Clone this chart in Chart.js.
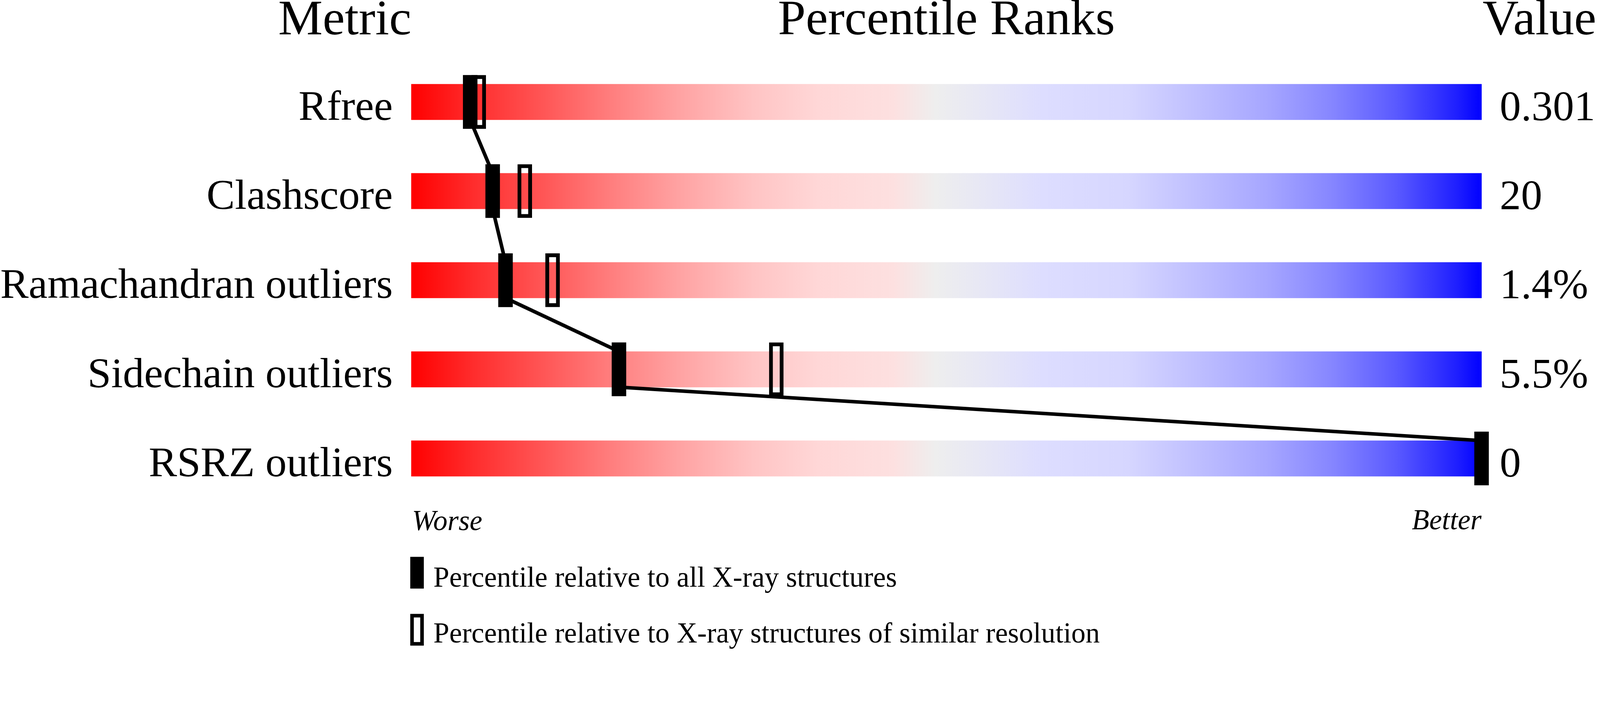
<!DOCTYPE html>
<html>
<head>
<meta charset="utf-8">
<title>Percentile Ranks</title>
<script src="https://cdn.jsdelivr.net/npm/chart.js@4.4.1/dist/chart.umd.min.js"></script>
<style>
  html, body { margin: 0; padding: 0; background: #ffffff; overflow: hidden; }
  canvas { display: block; }
</style>
</head>
<body>
<canvas id="c"></canvas>
<script>
// ---- data ----
const metrics = ['Rfree', 'Clashscore', 'Ramachandran outliers', 'Sidechain outliers', 'RSRZ outliers'];
const values = ['0.301', '20', '1.4%', '5.5%', '0'];
const pctAll = [5.5, 7.6, 8.8, 19.4, 100];          // relative to all X-ray structures
const pctSimilar = [6.3, 10.6, 13.2, 34.1, null];   // relative to similar resolution
const headers = ['Metric', 'Percentile Ranks', 'Value'];
const endLabels = ['Worse', 'Better'];
const legendLabels = ['Percentile relative to all X-ray structures',
                      'Percentile relative to X-ray structures of similar resolution'];

// ---- sizing: design space is 4485 x 1824, scaled to the viewport ----
const VW = window.innerWidth || 4485, VH = window.innerHeight || 1824;
const S = Math.min(VW / 4485, VH / 1824);
const px = v => v * S;
const canvas = document.getElementById('c');
canvas.width = Math.round(VW); canvas.height = Math.round(VH);
canvas.style.width = VW + 'px'; canvas.style.height = VH + 'px';

// ---- styling / layout ----
const FONT = '"Liberation Serif", "Times New Roman", Times, serif';
const BAR_PX = 100, MARKER_PX = 150, ROW_PX = 250;
const MARKER_W = 40;                 // marker width (design px)
const PX_PER_PCT = 30;               // 3000 px bar / 100
const halfW = MARKER_W / 2 / PX_PER_PCT;
const halfBarUnits = (BAR_PX / 2) / ROW_PX;

const gradStops = [
  [0.00, '#ff0000'], [0.06, '#ff2e2e'], [0.13, '#ff5a5a'], [0.19, '#ff8080'],
  [0.255, '#ffa5a5'], [0.32, '#ffc4c4'], [0.38, '#ffd7d7'], [0.45, '#fde0e0'],
  [0.49, '#eeeeee'], [0.54, '#e6e6f6'], [0.59, '#ddddff'], [0.67, '#d6d6ff'],
  [0.73, '#c0c0ff'], [0.80, '#a6a6ff'], [0.86, '#8686ff'], [0.92, '#5a5aff'],
  [0.976, '#2020ff'], [1.00, '#0000ff']
];
let cachedGrad = null;
function barGradient(ctx) {
  const chart = ctx.chart;
  if (!chart.chartArea) return '#eeeeee';
  if (cachedGrad) return cachedGrad;
  const xs = chart.scales.x;
  const g = chart.ctx.createLinearGradient(xs.getPixelForValue(0), 0, xs.getPixelForValue(100), 0);
  gradStops.forEach(s => g.addColorStop(s[0], s[1]));
  cachedGrad = g;
  return g;
}

const bgData = metrics.map((m, i) => ({ y: i, x: [0, 100] }));
const allData = pctAll.map((p, i) => ({ y: i, x: [p - halfW, p + halfW] }));
const simData = pctSimilar.map((p, i) => p == null ? null : ({ y: i, x: [p - halfW, p + halfW] })).filter(d => d);
const lineData = [];
for (let i = 0; i < pctAll.length - 1; i++) {
  lineData.push({ x: pctAll[i], y: i + halfBarUnits });
  lineData.push({ x: pctAll[i + 1], y: i + 1 - halfBarUnits });
}

const textPlugin = {
  id: 'texts',
  afterDraw(chart) {
    const ctx = chart.ctx;
    const xs = chart.scales.x, ys = chart.scales.y;
    const left = xs.getPixelForValue(0), right = xs.getPixelForValue(100);
    ctx.save();
    ctx.fillStyle = '#000';
    ctx.textBaseline = 'alphabetic';
    // headers
    ctx.font = px(140) + 'px ' + FONT;
    ctx.textAlign = 'right'; ctx.fillText(headers[0], left, px(96));
    ctx.textAlign = 'center'; ctx.fillText(headers[1], (left + right) / 2, px(96));
    ctx.textAlign = 'left'; ctx.fillText(headers[2], right + px(3), px(96));
    // row labels + values
    ctx.font = px(119) + 'px ' + FONT;
    metrics.forEach((m, i) => {
      const base = ys.getPixelForValue(i) + px(BAR_PX / 2);
      ctx.textAlign = 'right'; ctx.fillText(m, left - px(52), base);
      ctx.textAlign = 'left'; ctx.fillText(values[i], right + px(51), base + px(1));
    });
    // worse / better
    ctx.font = 'italic ' + px(80) + 'px ' + FONT;
    ctx.textAlign = 'left'; ctx.fillText(endLabels[0], left + px(2), px(1487));
    ctx.textAlign = 'right'; ctx.fillText(endLabels[1], right, px(1485));
    // legend
    ctx.font = px(80) + 'px ' + FONT;
    ctx.textAlign = 'left';
    ctx.fillRect(left - px(3), px(1562), px(38), px(89));
    ctx.fillText(legendLabels[0], left + px(62), px(1646));
    ctx.lineWidth = px(10);
    ctx.strokeStyle = '#000';
    ctx.strokeRect(left - px(3) + px(5), px(1722) + px(5), px(28), px(79));
    ctx.fillText(legendLabels[1], left + px(62), px(1802));
    ctx.restore();
  }
};

new Chart(canvas, {
  type: 'bar',
  data: {
    datasets: [
      {
        type: 'bar', indexAxis: 'y', data: bgData, grouped: false,
        barThickness: px(BAR_PX), backgroundColor: barGradient, borderWidth: 0,
        order: 4, clip: false
      },
      {
        type: 'line', data: lineData, borderColor: '#000', borderWidth: px(10),
        pointRadius: 0, fill: false, tension: 0, order: 3, clip: false
      },
      {
        type: 'bar', indexAxis: 'y', data: simData, grouped: false,
        barThickness: px(MARKER_PX), backgroundColor: 'rgba(0,0,0,0)',
        borderColor: '#000', borderWidth: px(10), borderSkipped: false,
        order: 2, clip: false
      },
      {
        type: 'bar', indexAxis: 'y', data: allData, grouped: false,
        barThickness: px(MARKER_PX), backgroundColor: '#000', borderWidth: 0,
        order: 1, clip: false
      }
    ]
  },
  options: {
    responsive: false,
    maintainAspectRatio: false,
    animation: false,
    events: [],
    layout: { padding: { left: px(1153), right: VW - px(4153), top: px(161), bottom: VH - px(1411) } },
    plugins: { legend: { display: false }, tooltip: { enabled: false }, title: { display: false } },
    scales: {
      x: { type: 'linear', min: 0, max: 100, display: false, offset: false, grid: { offset: false } },
      y: { type: 'linear', min: -0.5, max: 4.5, reverse: true, display: false, offset: false, grid: { offset: false } }
    }
  },
  plugins: [textPlugin]
});
</script>
</body>
</html>
